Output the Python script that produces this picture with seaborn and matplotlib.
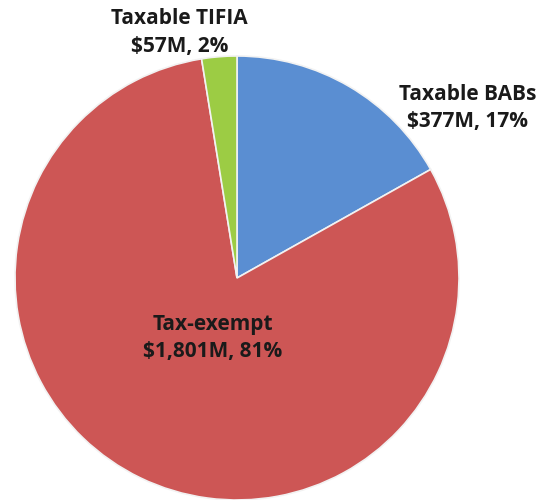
import matplotlib
matplotlib.use("Agg")
import matplotlib.pyplot as plt
import seaborn as sns

# bond issuance by type ($M)
categories = ["Taxable BABs", "Tax-exempt", "Taxable TIFIA"]
amounts = [377, 1801, 57]
pct_labels = ["17%", "81%", "2%"]
colors = ["#5A8ED2", "#CD5655", "#9CCC44"]

sns.set_theme(style="white")
plt.rcParams['font.family'] = ['Open Sans', 'DejaVu Sans']

fig = plt.figure(figsize=(5.53, 5.0), dpi=100)
ax = fig.add_axes([15 / 553, 0.0, 444 / 553, 444 / 500])

wedges, _ = ax.pie(amounts, colors=colors, startangle=90, counterclock=False,
                   radius=1.0, wedgeprops=dict(edgecolor="#F2F2F2", linewidth=1.2))
ax.set_xlim(-1, 1)
ax.set_ylim(-1, 1)
ax.set_aspect("equal")
ax.axis("off")

# label placement (data coords)
label_pos = [(1.04, 0.765), (-0.11, -0.27), (-0.26, 1.105)]
for name, amt, pct, (x, y) in zip(categories, amounts, pct_labels, label_pos):
    ax.text(x, y, f"{name}\n${amt:,}M, {pct}", ha="center", va="center",
            fontsize=15, fontweight="bold", color="#1A1A1A",
            linespacing=1.4, clip_on=False)

fig.savefig("out.png", dpi=100)
